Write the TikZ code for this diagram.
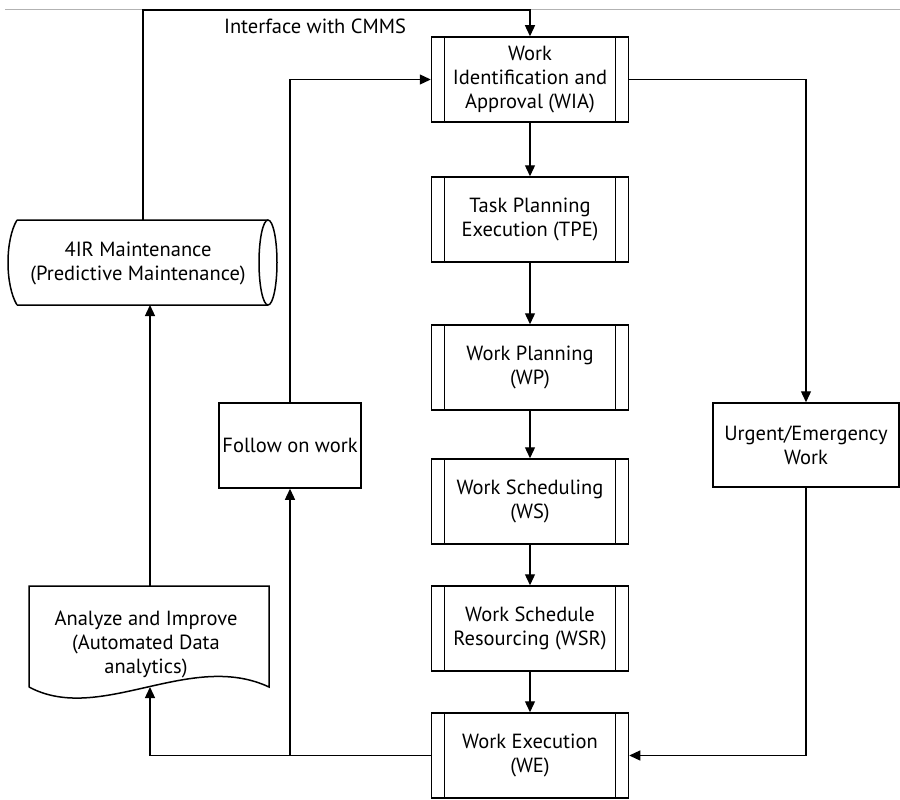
\documentclass[tikz,border=0pt]{standalone}
\usepackage{fontspec}
\setmainfont{PT Sans}
\usetikzlibrary{arrows.meta}
\begin{document}
\begin{tikzpicture}[x=1pt,y=-1pt,
  font=\fontsize{20.5}{24}\selectfont,
  conn/.style={line width=1.3pt,-{Triangle[length=11pt,width=10pt]}},
  procbox/.style={draw,line width=1.5pt,minimum width=197pt,minimum height=85pt,
    align=center,inner sep=0pt,
    path picture={
      \draw[line width=1.3pt]
        ([xshift=13pt]path picture bounding box.north west) --
        ([xshift=13pt]path picture bounding box.south west)
        ([xshift=-13pt]path picture bounding box.north east) --
        ([xshift=-13pt]path picture bounding box.south east);}},
  simplebox/.style={draw,line width=1.5pt,align=center,inner sep=0pt},
]
\useasboundingbox (0,0) rectangle (900,800);

% thin rule along the top edge
\draw[gray!60,line width=1pt] (5,10) -- (900,10);

% main process column
\node[procbox] (wia) at (530,79.5)  {Work\\Identification and\\Approval (WIA)};
\node[procbox] (tpe) at (530,219.5) {Task Planning\\Execution (TPE)};
\node[procbox] (wp)  at (530,367.5) {Work Planning\\(WP)};
\node[procbox] (ws)  at (530,501.5) {Work Scheduling\\(WS)};
\node[procbox] (wsr) at (530,628.5) {Work Schedule\\Resourcing (WSR)};
\node[procbox] (we)  at (530,755.5) {Work Execution\\(WE)};

% side boxes
\node[simplebox,minimum width=142pt,minimum height=85pt] (fol) at (290,445.5) {Follow on work};
\node[simplebox,minimum width=186pt,minimum height=84pt] (urg) at (806,445) {Urgent/Emergency\\Work};

% 4IR maintenance (horizontal cylinder)
\draw[line width=1.5pt,fill=white] (17,220) -- (268,220)
  (17,305) -- (268,305)
  (17,220) .. controls (5,240) and (5,285) .. (17,305);
\draw[line width=1.5pt] (268,262.5) ellipse [x radius=9, y radius=42.5];
\node[align=center] (pm) at (138,263) {4IR Maintenance\\(Predictive Maintenance)};
\coordinate (pmtop) at (143,220);
\coordinate (pmbot) at (150,305);

% analyze and improve (document shape)
\draw[line width=1.5pt] (29,687) -- (29,586) -- (269,586) -- (269,687)
  .. controls (190,650) and (100,725) .. (29,687);
\node[align=center] (ana) at (146,644) {Analyze and Improve\\(Automated Data\\analytics)};
\coordinate (anatop) at (150,586);
\coordinate (anabot) at (150,687);

% label of the top loop
\node (cmms) at (315,26) {Interface with CMMS};

% connectors
\coordinate (topy) at (0,10);
\draw[conn] (pmtop) -- (pmtop |- topy) -| (wia.north);
\draw[conn] (wia) -- (tpe);
\draw[conn] (tpe) -- (wp);
\draw[conn] (wp) -- (ws);
\draw[conn] (ws) -- (wsr);
\draw[conn] (wsr) -- (we);
\draw[conn] (wia.east) -| (urg.north);
\draw[conn] (urg.south) |- (we.east);
\draw[conn] (fol.north) |- (wia.west);
\draw[conn] (we.west) -| (anabot);
\coordinate (split) at (fol.south |- we.west);
\draw[conn] (split) -- (fol.south);
\draw[conn] (anatop) -- (pmbot);
\end{tikzpicture}
\end{document}
